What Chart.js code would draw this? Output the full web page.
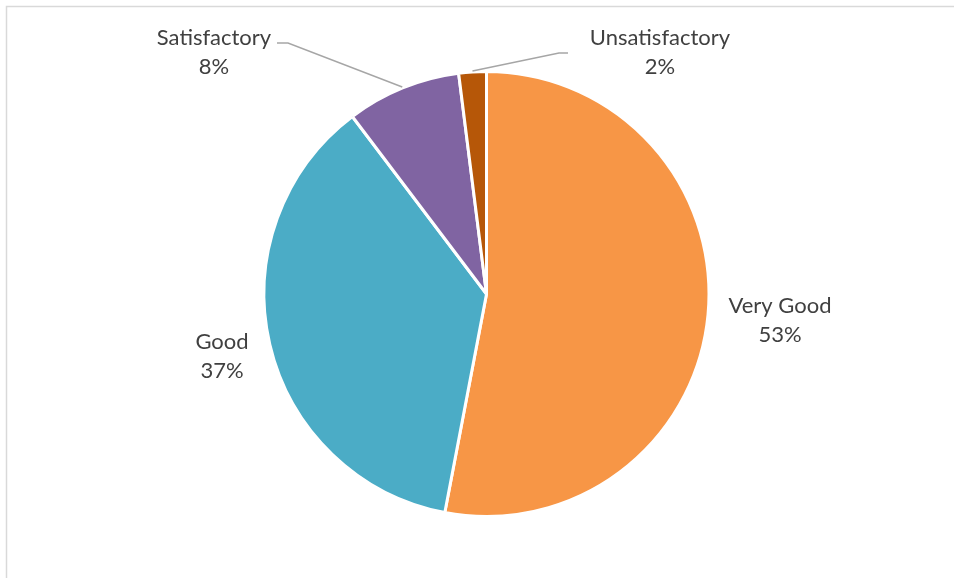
<!DOCTYPE html>
<html>
<head>
<meta charset="utf-8">
<script src="https://cdn.jsdelivr.net/npm/chart.js@4.4.0/dist/chart.umd.min.js"></script>
<style>
    html, body { margin: 0; padding: 0; background: #ffffff; }
    #wrap { width: 954px; height: 578px; position: relative; }
</style>
</head>
<body>
<div id="wrap"><canvas id="ratingchart" width="954" height="578"></canvas></div>
<script>
const categories = ["Very Good", "Good", "Satisfactory", "Unsatisfactory"];
const ratingValues = [53, 36.7, 8.3, 2];
const sliceColors = ["#F79646", "#4BACC6", "#8064A2", "#B65708"];

const ratingChart = document.getElementById("ratingchart");

// label positions (text centre) and leader line for the small slices
const labelSpots = [
    { x: 780, y: 306 },
    { x: 222, y: 342 },
    { x: 214, y: 38, leader: [[277, 43], [288, 43]] },
    { x: 660, y: 38, leader: [[568, 53], [559, 53]] }
];

const labelPlugin = {
    id: "sliceLabels",
    beforeDraw(chart) {
        const ctx = chart.ctx;
        ctx.save();
        ctx.strokeStyle = "#d9d9d9";
        ctx.lineWidth = 1.5;
        ctx.beginPath();
        ctx.moveTo(6.5, 578);
        ctx.lineTo(6.5, 6.5);
        ctx.lineTo(954, 6.5);
        ctx.stroke();
        ctx.restore();
    },
    afterDatasetsDraw(chart) {
        const ctx = chart.ctx;
        const meta = chart.getDatasetMeta(0);
        const data = chart.data.datasets[0].data;
        const total = data.reduce((a, b) => a + b, 0);
        ctx.save();
        meta.data.forEach((arc, i) => {
            const spot = labelSpots[i];
            if (spot.leader) {
                // leader ends on the pie's outer edge at the slice's middle angle
                const mid = (arc.startAngle + arc.endAngle) / 2;
                const ex = arc.x + Math.cos(mid) * (arc.outerRadius + 1);
                const ey = arc.y + Math.sin(mid) * (arc.outerRadius + 1);
                ctx.strokeStyle = "#a6a6a6";
                ctx.lineWidth = 1.5;
                ctx.beginPath();
                ctx.moveTo(spot.leader[0][0], spot.leader[0][1]);
                ctx.lineTo(spot.leader[1][0], spot.leader[1][1]);
                ctx.lineTo(ex, ey);
                ctx.stroke();
            }
            ctx.fillStyle = "#404040";
            ctx.font = "22px Lato";
            ctx.textAlign = "center";
            ctx.textBaseline = "middle";
            ctx.fillText(chart.data.labels[i], spot.x, spot.y);
            ctx.fillText(Math.round(data[i] / total * 100) + "%", spot.x, spot.y + 29);
        });
        ctx.restore();
    }
};

const ratingChartInstance = new Chart(ratingChart, {
    type: "pie",
    data: {
        labels: categories,
        datasets: [{
            data: ratingValues,
            backgroundColor: sliceColors,
            borderColor: "#ffffff",
            borderWidth: 3
        }]
    },
    options: {
        responsive: false,
        animation: false,
        layout: {
            padding: { top: 70, bottom: 60, left: 19, right: 0 }
        },
        plugins: {
            legend: { display: false },
            tooltip: { enabled: false }
        }
    },
    plugins: [labelPlugin]
});
</script>
</body>
</html>
